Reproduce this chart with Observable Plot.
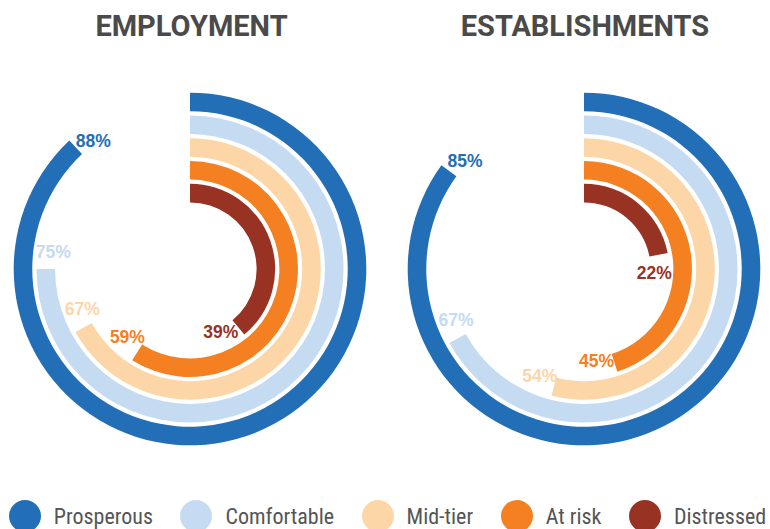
<!DOCTYPE html>
<html>
<head>
<meta charset="utf-8">
<script src="https://cdn.jsdelivr.net/npm/d3@7"></script>
<script src="https://cdn.jsdelivr.net/npm/@observablehq/plot@0.6"></script>
<style>
  html, body { margin: 0; padding: 0; background: #fff; }
  #page { position: relative; width: 770px; height: 529px; overflow: hidden; background: #fff; }
  .title { position: absolute; top: 11.6px; width: 360px; text-align: center;
    font-family: Roboto, "Liberation Sans", sans-serif; font-weight: 700; font-size: 29px;
    line-height: 29px; color: #4a4a4a; }
  .chart { position: absolute; top: 82.6px; }
  .legend { position: absolute; left: 8.8px; top: 500px; height: 32px; display: flex; align-items: center;
    font-family: "Liberation Sans Narrow", "Roboto Condensed", sans-serif; font-size: 22px; color: #555; white-space: nowrap; }
  .legend .sw { width: 32px; height: 32px; border-radius: 50%; margin-right: 13px; flex: none; }
  .legend .lab { margin-right: 27.5px; }
</style>
</head>
<body>
<div id="page"></div>
<script>
// ---- data ----
const categories = ["Prosperous", "Comfortable", "Mid-tier", "At risk", "Distressed"];
const colors = ["#226fb7", "#c4dbf2", "#fdd6a8", "#f58022", "#983222"];
const employment = [0.88, 0.75, 0.67, 0.59, 0.39];
const establishments = [0.85, 0.67, 0.54, 0.45, 0.22];
const chartTitles = ["EMPLOYMENT", "ESTABLISHMENTS"];

const page = document.getElementById("page");

function ringChart(vals) {
  const rows = categories.map((c, i) => ({category: c, value: vals[i]}));
  return Plot.plot({
    width: 370,
    height: 372,
    margin: 0,
    style: {background: "transparent", overflow: "visible"},
    x: {domain: [0, 1], range: [0, 2 * Math.PI], axis: null},
    y: {type: "band", domain: categories, range: [176.3, 66.6], paddingInner: 0.185, paddingOuter: 0, round: false, axis: null},
    color: {domain: categories, range: colors},
    marks: [
      Plot.barX(rows, {
        x: "value",
        y: "category",
        fill: "category",
        render(index, scales, values, dimensions) {
          const cx = dimensions.width / 2, cy = dimensions.height / 2;
          const bw = scales.y.bandwidth();
          const arc = d3.arc();
          const g = d3.create("svg:g").attr("transform", `translate(${cx},${cy})`);
          g.selectAll("path").data(Array.from(index)).join("path")
            .attr("d", i => arc({
              innerRadius: values.y[i],
              outerRadius: values.y[i] + bw,
              startAngle: values.x1[i],
              endAngle: values.x2[i]
            }))
            .attr("fill", i => values.fill[i]);
          return g.node();
        }
      }),
      Plot.text(rows, {
        x: "value",
        y: "category",
        text: d => `${Math.round(d.value * 100)}%`,
        fill: "category",
        fontSize: 17.5,
        fontWeight: 700,
        fontFamily: "'Liberation Sans', Arial, sans-serif",
        textAnchor: "middle",
        lineAnchor: "middle",
        render(index, scales, values, dimensions, context, next) {
          const cx = dimensions.width / 2, cy = dimensions.height / 2;
          const bw = scales.y.bandwidth();
          const n = values.x.length;
          const X = new Float64Array(n), Y = new Float64Array(n);
          for (const i of index) {
            const r = values.y[i] + bw / 2 - 6;
            const a = values.x[i] + 17 / r;
            X[i] = cx + r * Math.sin(a);
            Y[i] = cy - r * Math.cos(a);
          }
          return next(index, {...scales, x: undefined, y: undefined}, {...values, x: X, y: Y}, dimensions, context);
        }
      })
    ]
  });
}

const lefts = [5, 399.2];
const titleLefts = [11.5, 405];
[employment, establishments].forEach((vals, k) => {
  const t = document.createElement("div");
  t.className = "title";
  t.style.left = titleLefts[k] + "px";
  t.textContent = chartTitles[k];
  page.appendChild(t);
  const svg = ringChart(vals);
  svg.classList.add("chart");
  svg.style.position = "absolute";
  svg.style.left = lefts[k] + "px";
  svg.style.top = "82.6px";
  page.appendChild(svg);
});

// legend
const legend = document.createElement("div");
legend.className = "legend";
categories.forEach((c, i) => {
  const sw = document.createElement("span");
  sw.className = "sw";
  sw.style.background = colors[i];
  const lab = document.createElement("span");
  lab.className = "lab";
  lab.textContent = c;
  legend.appendChild(sw);
  legend.appendChild(lab);
});
page.appendChild(legend);
</script>
</body>
</html>
